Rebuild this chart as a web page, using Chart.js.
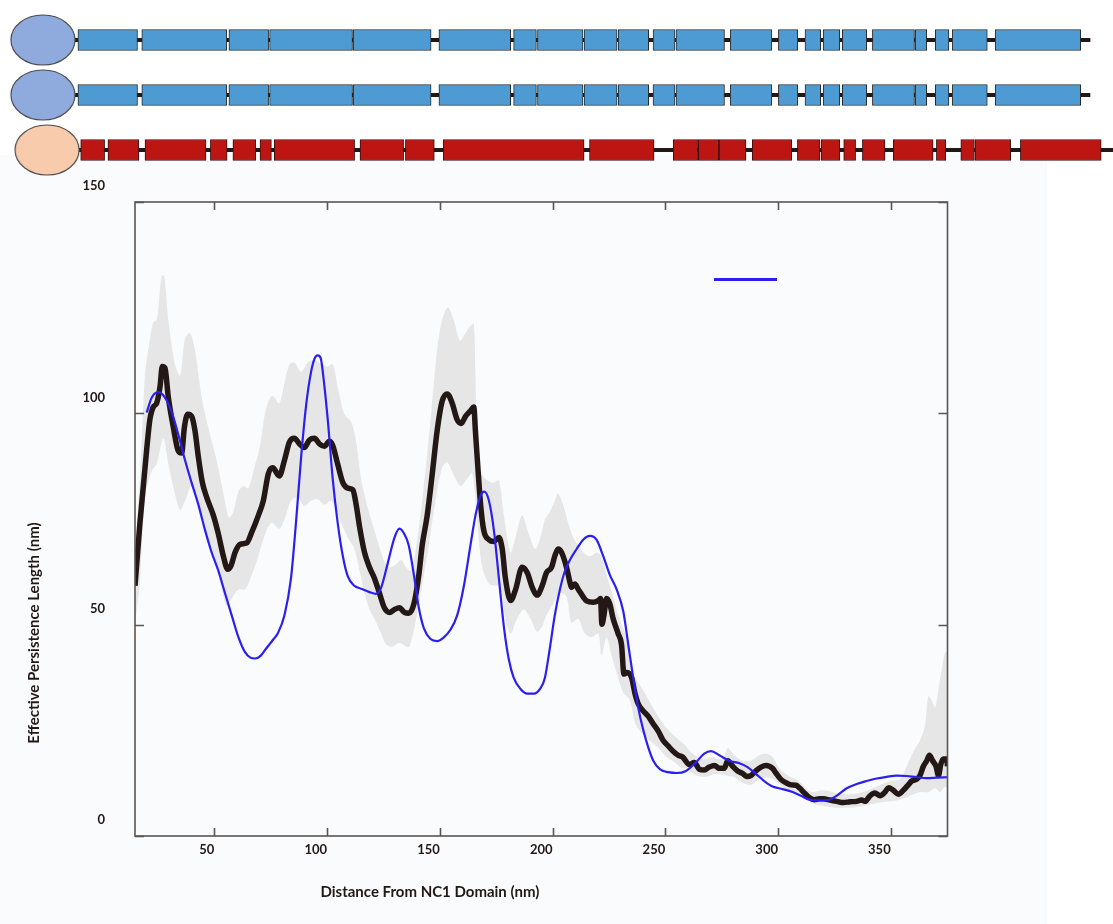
<!DOCTYPE html>
<html>
<head>
<meta charset="utf-8">
<script src="https://cdn.jsdelivr.net/npm/chart.js@4.4.1/dist/chart.umd.min.js"></script>
<style>
  html, body { margin: 0; padding: 0; background: #ffffff; }
  #wrap { position: relative; width: 1113px; height: 924px; }
  #main, #domains { position: absolute; left: 0; top: 0; }
</style>
</head>
<body>
<div id="wrap">
  <canvas id="main" width="1113" height="924"></canvas>
  <canvas id="domains" width="1113" height="180"></canvas>
</div>
<script>
// ---------- domain map (three chains) ----------
const chainRows = ['chainA', 'chainB', 'chainC'];
const globularCentres = [42.9, 42.9, 47.1];
const backboneSpans = [[75, 1090], [75, 1090], [79, 1113]];
const blueChainBoxes = [
  [77.9, 137.5], [141.8, 226.8], [228.9, 268.6], [269.6, 352.5], [353.2, 431.1],
  [438.9, 510.7], [513.6, 536.4], [537.5, 583], [584.1, 617.1], [618.2, 648.7],
  [653, 675], [676, 724.5], [730.2, 771.9], [778.4, 797.8], [805, 820.7],
  [823.2, 839.8], [842.3, 866.7], [872.4, 914.5], [915.2, 926.7], [935.3, 948.9],
  [952.2, 987.3], [995.2, 1080.7]
];
const redChainBoxes = [
  [80.7, 104.6], [107.9, 138.9], [145, 206], [210.4, 227.1], [232.9, 255.7],
  [260, 271.4], [274.3, 354.6], [360, 403.6], [405.4, 434.3], [443.2, 584.1],
  [589.5, 654.1], [673.2, 697.6], [698.3, 718.8], [719.1, 746], [752.2, 791.7],
  [797.4, 820], [821.1, 839.8], [843.7, 855.6], [862.4, 885], [893.3, 933.1],
  [936.4, 945.7], [960.8, 974.4], [975.1, 1010.7], [1020.4, 1101.2]
];

// ---------- persistence profile ----------
const xTicks = [50, 100, 150, 200, 250, 300, 350];
const yTicks = [0, 50, 100, 150];

const meanX = [14.8,17,20,21.4,22.9,24.4,25.9,26.9,28.1,29.6,31.8,34,35.5,36.7,38.2,39.9,41.4,42.9,44.7,46.6,49.6,51.8,54,55.9,57.4,59.2,61.4,64.3,66.6,69.5,71.7,74,75.9,78.8,81.1,83.3,85.5,87.7,89.9,92.2,94.4,96.6,98.8,101,102.5,104.7,107,109.2,111.4,112.9,114.4,116.6,118.8,121,123.2,125.4,127.7,129.9,132.1,134.3,136.2,138.5,140.7,142.2,144.4,146.6,148.8,151,153.3,155.5,157.7,159.5,161.4,163.6,165.1,165.8,166.9,168.1,169.5,171.8,174,176.2,177.7,179.1,181.4,183.6,186.5,188.8,191,193.2,195.4,197.3,199.6,201,202.5,204,206.2,207.7,208.4,209.9,211.4,213.6,215.1,218,220.3,221.3,221.9,222.8,224,225.4,226.9,229.1,230.6,231.7,233.1,235.1,236.5,238,240.2,242.5,244.7,246.9,249.1,251.3,253.6,255.8,257.7,260.7,262.9,265.1,267.3,269.5,271.8,274,276.2,277.7,279.9,282.1,284.3,286.1,288,290.2,292.5,294.7,297.6,299.1,301.3,303.6,305.8,308,309.5,311.7,313.9,316.1,318.5,320.1,323.1,326,329,332,334.9,337.1,338.6,340.8,343,345.3,347.5,349,351.2,353.4,355.6,357.8,359.3,361.5,363,364.5,366,367.2,368.6,370.1,371.2,372.2,373.4,374.9,375.2];
const meanY = [59.2,74.1,91.5,98.5,101.5,102.4,106.3,111.1,110.7,103.7,96.7,91.1,90.6,96.7,99.8,99.3,95.9,89.7,83.6,80.1,75.8,71.4,66.2,63.1,64,67.1,69,69.3,71.9,75.8,79.3,85.8,87.1,85.2,88.9,93.2,94.1,92.8,91.9,93.7,94.1,92.8,92.2,93.4,92.4,88,83.6,82.3,81.9,78.4,73.2,67.1,63.6,61,57.5,54,52.9,53.6,54,52.9,52.7,54.9,61.8,68.8,75.8,85.4,95.8,102.8,104.6,102.4,98.5,97.6,99.3,100.6,101.5,95.8,87.1,78.4,72.3,70.1,69.7,70.6,67.9,61,55.7,58.3,63.6,62.3,58.8,57,59.2,62.3,63.6,66.2,67.9,67.1,63.6,60.1,58.8,59.6,58.4,56.6,55.6,55.3,55.7,56.2,50.1,52.2,56.2,54.9,51.4,47.9,45.3,38.3,38.7,37.4,33.9,31.3,29.6,28.3,26.5,24.8,22.6,21.3,20,19.1,18.7,16.9,17.4,15.8,15.6,16.3,16.7,16,16,17.8,16.5,15.4,14.8,14.1,14.3,15.4,16.3,16.7,16,14.9,13.4,12.6,12.1,12,11.4,10.2,9.1,8.6,8.8,8.8,8.5,8.2,7.9,8.1,8.2,8.5,8.2,9.5,10.2,9.5,10.4,11.4,10.8,9.9,10.8,12.1,13,13.4,14.3,16.5,17.8,19.1,17.8,16.5,14.3,16.9,18.2,18.2,16.5];

const bandUpperX = [14.8,17,19.2,21,22.9,24.4,25.5,26.6,27.8,29.6,32.5,34.8,37,39.2,41.4,44.4,47.3,51,54.7,56.5,58.4,60.7,62.9,65.1,67.3,70.3,72.5,74.7,76,78.8,81.1,83.3,85.5,88.5,91.4,94.4,97.3,100.3,102.5,104.7,107.7,110.7,112.9,115.1,118.1,121,124,126.9,129.9,132.9,134.5,137,139.9,142.9,145.9,148.8,151,153.6,156.2,158.9,161.4,163.6,165.1,165.8,167.3,170.3,173.2,176.2,178.4,181.4,183.6,186.5,189.5,192.5,195.4,196.6,198.8,201,202.5,204.7,206.9,209.2,211.4,213.6,216.6,219.5,221.7,224,226.9,229.9,232.8,235.8,238.8,241.7,245.4,249.1,253.6,258.4,262.1,266.6,271,275.5,277.7,280.6,284.3,288,291.7,294.7,297.6,300.6,304.3,308,311,314.7,320.1,326,332,337.9,343.8,349.7,354.1,357.1,360.1,363,365.2,366.7,368.2,369.7,371.2,372.6,374.1,375.2];
const bandUpperY = [68,85,108.9,116,121.6,122,127,132.5,132.5,122,111.6,108.9,117.7,119,115,103.7,96.7,88.9,79.3,75.3,76.7,81.5,82.8,82.3,86.3,92.4,100.2,103.7,104.1,102.4,107.2,111.6,112,109.8,112,112.6,111.6,111.1,111.6,106.3,99.8,98,93.2,84.5,77.5,72.3,67.1,63.6,64,65.3,64,62.7,69.7,82.8,98.5,115,122,125.1,122,117.2,119,120.7,121.1,108.9,86.7,84.5,83.6,84.1,75.8,67.1,70.6,75.8,71.4,67.9,72.3,74.9,76.7,79.3,81,78.4,74.1,70.6,68.8,67.1,66.2,67.1,66.2,61.8,56.6,51,47,38.3,35.7,33.1,29.6,26.5,23.9,21.7,19.5,18.2,18.7,18.2,20.8,19.1,17.8,17.8,19.1,19.5,18.7,16,14.3,13.4,12.1,10.4,10.8,10.2,9.9,10.4,11.7,13,13.4,16.5,20,22.6,26.1,33.1,32.2,30.4,34.8,39.2,43.5,43.5];

const bandLowerX = [14.8,17,19.2,22.2,24.4,27.4,29.6,32.5,34.8,37,39.9,42.9,45.9,49.6,53.3,55.5,57.7,60.7,63.6,66.6,69.5,72.5,75.4,78.8,81.1,84,87,89.9,92.9,95.9,98.8,101.8,104,106.2,109.2,112.1,114.4,116.6,118.8,121,124,126.2,129.1,132.1,135.1,136.5,139.2,142.2,145.1,148.1,151,153.3,156.2,159.2,162.1,164.4,166.6,168.8,171.8,174.7,176.9,179.1,181.4,184.3,187.3,190.2,193.2,195.4,197.3,200.3,203.3,206.2,208.4,211.4,214.3,217.3,220.3,221.7,224,226.2,229.1,231.4,234.3,236.5,239.5,243.2,246.9,250.6,254.3,257.4,259.2,263.6,268.1,272.5,276.9,280.6,284.3,288,291.7,295.4,299.1,302.8,307.3,311,314.7,320.1,326,332,337.9,343.8,349.7,354.1,358.6,363,366.7,369.7,371.9,374.1,375.2];
const bandLowerY = [50,60,80,86.3,88,94.1,88,81,77.1,79.3,82.8,78.4,72.3,67.1,58.3,54.4,56.2,58.3,58.3,61.8,66.2,71.4,74.1,72.7,74.9,79.3,80.1,78,79.3,79.7,78.4,79.3,77.5,74.1,70.6,67.9,62.7,57.5,53.6,51.4,47.9,45.3,44.8,45.7,44.8,44.8,50.5,59.2,68.8,79.3,87.1,88.4,85.4,82.8,84.5,85.8,74.1,63.6,59.7,59.2,59.2,51.4,47.9,51.4,53.6,51.4,48.3,49.6,52.2,54.9,57.5,56.6,50.5,51.4,47.9,47,47.9,42.7,47,42.7,37.4,33.9,32.2,27,24.3,22.6,20.9,18.7,17.4,16,16,14.3,14,14.7,14.3,13.9,12.6,12.1,13.4,13.9,13,11.3,10.6,9.7,7.8,7.1,6.7,6.7,7.1,7.8,8.2,8.6,9.5,10.4,10.4,11.3,10.4,11.7,11.3];

const modelX = [20,22.2,25.1,28.1,31.1,34,37,39.9,42.9,45.9,48.8,51.8,54.7,57.7,60.7,63.6,66,68.1,70.5,72.5,76.3,78.1,81.1,84,86.2,88.5,90.7,92.9,94.5,95.9,97.2,98.1,100.3,102.5,104.7,107,109.2,112.1,115.1,118.8,121.7,124,126.9,129.9,132.1,134.3,136.2,138.5,140.7,142.9,145.9,148.8,151.8,154.7,157.7,160.7,163.6,165.8,168.1,169.8,171.8,174,176.2,178.4,180.6,182.8,185.8,188.8,191.7,194.7,196.6,198.8,201,203.3,205.5,207.7,210.7,213.6,216.6,219.5,222.5,225.4,228.4,231.4,233.6,235.8,238,240.2,242.5,244.7,247.6,251.3,255,259.2,263.6,267.3,270.3,274,278.4,282.9,286.5,290.2,293.9,297.6,302.1,306.5,310.2,313.9,318.6,322.3,326,330.5,334.9,339.3,343.8,348.2,352.7,357.1,361.5,366,370.4,375.2];
const modelY = [100.2,103.7,105,103.7,100.2,95,88.9,83.6,78.4,72.3,67.1,62.7,57.5,52.2,47,43.5,42.2,42,42.6,44,46.6,47.9,52.2,61,74.1,89.7,101.9,109.8,113,113.7,113,109.8,98.5,84.5,74.1,66.2,61.4,59.2,58.5,57.7,57.3,58.8,64.5,70.6,72.7,71.4,68.8,61.8,54,49.2,46.6,46.1,47,48.8,52.2,59.2,68.8,75.8,80.6,81.5,79.3,72.3,61,49.6,41.8,37.4,34.8,33.7,33.7,35,37.4,44.4,52.2,58.4,62.7,65.3,67.9,70.1,71,70.1,66.2,61.8,58.4,53.1,45.3,37.4,30.4,25.2,20.9,17.8,15.8,15.1,14.9,15.4,17.4,19.5,20.1,19.1,17.8,17.2,16.3,14.7,13,11.7,11.1,10.4,9.5,8.6,8.4,8.5,9.5,11.3,12.3,13,13.6,14,14.3,14.2,13.9,13.7,13.8,13.9];

const xy = (xs, ys) => xs.map((x, i) => ({ x: x, y: ys[i] }));

const INK = '#231815';
const AXIS = '#5a5550';
const MODEL_BLUE = '#2b1ff0';
const FONT = 'Lato, "Open Sans", sans-serif';

// background, frame with inward ticks, tick labels, titles and the key swatch
const framePlugin = {
  id: 'frame',
  beforeDraw(chart) {
    const ctx = chart.ctx;
    ctx.save();
    ctx.fillStyle = '#ffffff';
    ctx.fillRect(0, 0, chart.width, chart.height);
    ctx.fillStyle = '#fafbfd';
    ctx.fillRect(0, 155, 1047, chart.height - 155);
    ctx.restore();
  },
  afterDatasetsDraw(chart) {
    const ctx = chart.ctx;
    const a = chart.chartArea;
    const xs = chart.scales.x, ys = chart.scales.y;
    ctx.save();
    ctx.strokeStyle = AXIS;
    ctx.lineWidth = 1.6;
    ctx.strokeRect(a.left, a.top, a.right - a.left, a.bottom - a.top);
    ctx.beginPath();
    xTicks.forEach(v => {
      const px = Math.round(xs.getPixelForValue(v)) + 0.5;
      ctx.moveTo(px, a.bottom); ctx.lineTo(px, a.bottom - 8);
      ctx.moveTo(px, a.top); ctx.lineTo(px, a.top + 8);
    });
    yTicks.forEach(v => {
      const py = Math.round(ys.getPixelForValue(v)) + 0.5;
      ctx.moveTo(a.left, py); ctx.lineTo(a.left + 9, py);
      ctx.moveTo(a.right, py); ctx.lineTo(a.right - 9, py);
    });
    ctx.stroke();

    ctx.fillStyle = INK;
    ctx.font = 'bold 13px ' + FONT;
    ctx.textBaseline = 'middle';
    ctx.textAlign = 'right';
    xTicks.forEach(v => {
      ctx.fillText(String(v), xs.getPixelForValue(v), a.bottom + 14);
    });
    yTicks.forEach(v => {
      ctx.fillText(String(v), a.left - 30, ys.getPixelForValue(v) - 16);
    });

    ctx.font = 'bold 15px ' + FONT;
    ctx.textAlign = 'center';
    ctx.fillText('Distance From NC1 Domain (nm)', a.left + 0.363 * (a.right - a.left), a.bottom + 56);
    ctx.save();
    ctx.translate(a.left - 101, a.top + 431);
    ctx.rotate(-Math.PI / 2);
    ctx.fillText('Effective Persistence Length (nm)', 0, 0);
    ctx.restore();

    // key swatch for the model curve
    ctx.strokeStyle = chart.data.datasets[2].borderColor;
    ctx.lineWidth = 3;
    ctx.beginPath();
    ctx.moveTo(a.left + 579, a.top + 77.5);
    ctx.lineTo(a.left + 642, a.top + 77.5);
    ctx.stroke();
    ctx.restore();
  }
};

new Chart(document.getElementById('main'), {
  type: 'line',
  data: {
    datasets: [
      { label: 'upper', data: xy(bandUpperX, bandUpperY), borderWidth: 0, pointRadius: 0,
        fill: '+1', backgroundColor: '#e6e6e6', borderColor: 'rgba(0,0,0,0)', tension: 0.3, order: 3 },
      { label: 'lower', data: xy(bandLowerX, bandLowerY), borderWidth: 0, pointRadius: 0,
        fill: false, borderColor: 'rgba(0,0,0,0)', tension: 0.3, order: 3 },
      { label: 'model', data: xy(modelX, modelY), borderColor: MODEL_BLUE, borderWidth: 2.2,
        pointRadius: 0, fill: false, cubicInterpolationMode: 'monotone', order: 0 },
      { label: 'measured', data: xy(meanX, meanY), borderColor: INK, borderWidth: 5.5,
        pointRadius: 0, fill: false, cubicInterpolationMode: 'monotone', order: 1,
        borderCapStyle: 'butt', borderJoinStyle: 'round' }
    ]
  },
  options: {
    responsive: false,
    animation: false,
    events: [],
    layout: { autoPadding: false, padding: { left: 135, top: 202, right: 165.5, bottom: 88 } },
    scales: {
      x: { type: 'linear', min: 14.8, max: 375.2, display: false },
      y: { type: 'linear', min: 0, max: 150, display: false }
    },
    plugins: { legend: { display: false }, tooltip: { enabled: false } }
  },
  plugins: [framePlugin]
});

// ---------- domain map chart ----------
function ellipseSprite(fill) {
  const c = document.createElement('canvas');
  c.width = 68; c.height = 54;
  const g = c.getContext('2d');
  g.beginPath();
  g.ellipse(34, 27, 32, 25, 0, 0, Math.PI * 2);
  g.fillStyle = fill;
  g.fill();
  g.lineWidth = 1.2;
  g.strokeStyle = '#4a4a4a';
  g.stroke();
  return c;
}

const boxPoints = (boxes, row) => boxes.map(b => ({ x: b, y: row }));

new Chart(document.getElementById('domains'), {
  type: 'bar',
  data: {
    labels: chainRows,
    datasets: [
      { type: 'scatter', data: chainRows.slice(0, 2).map((r, i) => ({ x: globularCentres[i], y: r })),
        pointStyle: ellipseSprite('#8faadc'), order: 0 },
      { type: 'scatter', data: [{ x: globularCentres[2], y: chainRows[2] }],
        pointStyle: ellipseSprite('#f8cbad'), order: 0 },
      { data: boxPoints(blueChainBoxes, chainRows[0]).concat(boxPoints(blueChainBoxes, chainRows[1])),
        backgroundColor: '#4e9ad3', borderColor: '#2a2a2a', borderWidth: 1, borderSkipped: false,
        barThickness: 21, grouped: false, indexAxis: 'y', order: 1 },
      { data: boxPoints(redChainBoxes, chainRows[2]),
        backgroundColor: '#bd1612', borderColor: '#3a1010', borderWidth: 1, borderSkipped: false,
        barThickness: 21, grouped: false, indexAxis: 'y', order: 1 },
      { data: chainRows.map((r, i) => ({ x: backboneSpans[i], y: r })),
        backgroundColor: INK, borderWidth: 0, barThickness: 3.5, grouped: false, indexAxis: 'y', order: 2 }
    ]
  },
  options: {
    responsive: false,
    animation: false,
    events: [],
    indexAxis: 'y',
    layout: { autoPadding: false, padding: { left: 0, right: 0, top: 12.5, bottom: 2.5 } },
    scales: {
      x: { type: 'linear', min: 0, max: 1113, display: false },
      y: { type: 'category', labels: chainRows, display: false }
    },
    plugins: { legend: { display: false }, tooltip: { enabled: false } }
  }
});
</script>
</body>
</html>
